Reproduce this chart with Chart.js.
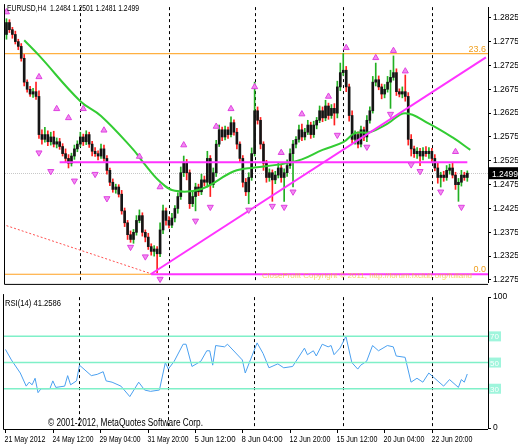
<!DOCTYPE html>
<html>
<head>
<meta charset="utf-8">
<script src="https://cdn.jsdelivr.net/npm/chart.js@4.4.1/dist/chart.umd.min.js"></script>
<style>
  body { margin: 0; background: #fff; }
  #wrap { position: relative; width: 518px; height: 444px; }
  .pane { position: absolute; left: 0; width: 518px; }
</style>
</head>
<body>
<div id="wrap">
  <div class="pane" style="top:0;height:290px"><canvas id="priceChart"></canvas></div>
  <div class="pane" style="top:290px;height:154px"><canvas id="rsiChart"></canvas></div>
</div>
<script>
// EURUSD H4 closes, one per bar (bar 0 = 21 May 2012 00:00)
const closes = [
  1.2815,1.2800,1.2790,1.2775,1.2765,1.2740,1.2690,1.2675,1.2665,1.2670,
  1.2660,1.2580,1.2570,1.2580,1.2565,1.2575,1.2560,1.2565,1.2555,1.2540,
  1.2530,1.2520,1.2535,1.2550,1.2560,1.2575,1.2565,1.2580,1.2560,1.2545,
  1.2540,1.2535,1.2550,1.2530,1.2505,1.2480,1.2465,1.2470,1.2455,1.2420,
  1.2395,1.2370,1.2360,1.2375,1.2400,1.2410,1.2375,1.2365,1.2345,1.2335,
  1.2340,1.2330,1.2380,1.2420,1.2400,1.2390,1.2405,1.2425,1.2450,1.2500,
  1.2520,1.2500,1.2435,1.2450,1.2470,1.2460,1.2485,1.2480,1.2530,1.2475,
  1.2500,1.2560,1.2590,1.2575,1.2590,1.2580,1.2605,1.2585,1.2560,1.2530,
  1.2480,1.2460,1.2490,1.2540,1.2630,1.2610,1.2560,1.2520,1.2490,1.2500,
  1.2485,1.2495,1.2510,1.2490,1.2500,1.2515,1.2540,1.2560,1.2570,1.2590,
  1.2575,1.2585,1.2600,1.2580,1.2600,1.2610,1.2630,1.2615,1.2640,1.2620,
  1.2635,1.2625,1.2680,1.2710,1.2715,1.2680,1.2620,1.2570,1.2580,1.2560,
  1.2590,1.2575,1.2610,1.2630,1.2690,1.2695,1.2680,1.2665,1.2675,1.2690,
  1.2700,1.2710,1.2670,1.2665,1.2670,1.2660,1.2570,1.2550,1.2540,1.2545,
  1.2535,1.2545,1.2540,1.2545,1.2530,1.2510,1.2490,1.2495,1.2490,1.2505,
  1.2510,1.2495,1.2475,1.2480,1.2495,1.2490,1.2499
];
const firstOpen = 1.2790;
// upper / lower shadow lengths in pips
const highWick = [
  8,6,5,7,5,6,8,5,6,7, 20,12,10,15,8,10,12,8,7,6, 10,8,6,8,7,10,6,8,5,6,
  8,6,10,8,6,5,7,6,5,8, 6,5,8,6,10,12,6,5,8,6, 7,5,15,12,6,8,10,6,8,12,
  15,8,6,10,8,6,12,8,15,6, 10,8,10,6,8,6,12,6,8,5, 6,8,10,12,60,8,6,5,6,8,
  6,8,10,6,8,12,10,8,6,10, 12,8,10,6,8,6,10,8,12,6, 8,10,12,20,35,8,6,10,8,6,
  8,6,10,8,12,35,8,6,10,12, 15,35,8,6,10,35,8,10,6,8, 6,8,10,8,6,8,10,6,8,10,
  8,12,6,8,10,6,5
];
const lowWick = [
  10,6,8,5,7,6,8,6,5,7, 6,8,10,6,8,7,6,8,6,5, 8,10,6,7,6,5,8,6,7,10,
  6,8,5,6,8,7,6,8,6,7, 8,10,6,8,6,5,8,10,6,8, 10,40,6,8,10,6,5,8,10,6,
  8,15,10,6,30,8,6,8,10,25, 6,8,5,8,6,8,5,6,10,8, 10,8,25,6,5,8,10,15,10,8,
  45,8,6,10,50,8,6,70,8,6, 8,6,5,8,6,8,5,8,6,8, 6,25,10,8,6,10,12,8,10,8,
  6,8,10,6,5,8,6,10,8,6, 55,6,8,6,8,10,12,15,8,10, 20,8,6,10,8,6,12,20,8,6,
  8,6,10,35,8,6,8
];

// moving average (green)
const maBar = [6,11,25,32,43,46,52,57,66,77,84,92,100,107,114,118,123,129,135,143,151,157];
const maVal = [1.2778,1.2746,1.2650,1.2619,1.2548,1.2524,1.2481,1.2462,1.2466,1.2503,1.2511,
               1.2517,1.2528,1.2548,1.2564,1.2583,1.2585,1.2603,1.2625,1.2603,1.2574,1.2548];

// fractals
const upBar = [0,11,17,21,26,33,45,52,60,71,76,84,93,100,109,115,125,131,135,152];
const upVal = [1.2837,1.2701,1.2634,1.2615,1.2634,1.2589,1.2534,1.2470,1.2558,1.2597,1.2634,
               1.2680,1.2542,1.2623,1.2660,1.2762,1.2741,1.2756,1.2713,1.2544];
const downBar = [11,15,23,30,34,42,47,52,64,69,82,90,94,97,112,122,130,137,140,147,154];
const downVal = [1.2542,1.2503,1.2483,1.2497,1.2446,1.2344,1.2324,1.2277,1.2399,1.2428,1.2422,
                 1.2430,1.2428,1.2460,1.2579,1.2554,1.2623,1.2517,1.2503,1.2460,1.2428];

// RSI(14)
const rsiBar = [0,2,5,7,8,9,10,11,12,15,16,17,20,21,22,24,25,29,31,33,34,36,39,42,45,47,49,52,
  54,55,57,60,61,63,66,68,69,70,71,74,75,80,81,85,87,89,92,94,97,101,102,104,105,107,109,110,
  111,113,115,117,119,120,122,124,126,129,131,132,135,137,139,141,143,145,148,150,153,154,155,156];
const rsiVal = [60,52,42,32,35,33,38,27,30,30,36,31,32,40,33,36,48,40,41,43,36,35,32,24,35,29,28,29,
  50,45,51,64,64,47,51,59,59,48,63,62,64,52,42,65,57,46,49,46,47,61,56,59,55,64,62,63,
  56,61,70,50,45,48,51,63,59,63,62,55,54,35,38,35,42,38,32,37,31,37,35,41.2586];

const priceTicks = [1.2825,1.2775,1.2725,1.2675,1.2625,1.2575,1.2525,1.2475,1.2425,1.2375,1.2325,1.2275];
const rsiLevels = [70,50,30];
const timeBars = [0,16,32,48,64,80,96,112,128,144];
const timeLabels = ['21 May 2012','24 May 12:00','29 May 04:00','31 May 20:00','5 Jun 12:00',
  '8 Jun 04:00','12 Jun 20:00','15 Jun 12:00','20 Jun 04:00','22 Jun 20:00'];
const separatorBars = [25,55,84,114,144];
const lastPrice = 1.2499;

const X_MIN = -0.5, X_MAX = 163;
const FONT = 'Liberation Sans, Arial, sans-serif';

// candles
const opens = closes.map((c, i) => i === 0 ? firstOpen : closes[i - 1]);
const wickData = [], bodyData = [], candleColors = [];
closes.forEach((c, i) => {
  const o = opens[i];
  const hi = Math.max(o, c) + highWick[i] / 10000;
  const lo = Math.min(o, c) - lowWick[i] / 10000;
  wickData.push({ x: i, y: [lo, hi] });
  bodyData.push({ x: i, y: o === c ? [c - 0.00005, c + 0.00005] : [o, c] });
  candleColors.push(c >= o ? '#22b022' : '#ff2020');
});

const pts = (xs, ys) => xs.map((x, i) => ({ x: x, y: ys[i] }));

function vSeparators(chart) {
  const { ctx, chartArea: a, scales: { x } } = chart;
  ctx.save();
  ctx.strokeStyle = '#000';
  ctx.lineWidth = 1;
  ctx.setLineDash([3, 3]);
  separatorBars.forEach(b => {
    const px = Math.round(x.getPixelForValue(b)) + 0.5;
    ctx.beginPath(); ctx.moveTo(px, a.top); ctx.lineTo(px, a.bottom); ctx.stroke();
  });
  ctx.restore();
}

function frame(chart) {
  const { ctx, chartArea: a } = chart;
  ctx.save();
  ctx.strokeStyle = '#000';
  ctx.lineWidth = 1;
  ctx.beginPath();
  ctx.moveTo(a.left - 0.5, a.top - 3); ctx.lineTo(a.left - 0.5, a.bottom + 1.5);
  ctx.lineTo(a.right, a.bottom + 1.5);
  ctx.stroke();
  ctx.restore();
}

const pricePlugin = {
  id: 'pricePlugin',
  beforeDatasetsDraw(chart) {
    const { ctx, chartArea: a, scales: { y } } = chart;
    vSeparators(chart);
    // bid line
    const py = Math.round(y.getPixelForValue(lastPrice)) + 0.5;
    ctx.save();
    ctx.strokeStyle = '#c8c8c8';
    ctx.setLineDash([1, 1]);
    ctx.beginPath(); ctx.moveTo(a.left, py); ctx.lineTo(a.right, py); ctx.stroke();
    ctx.restore();
  },
  afterDatasetsDraw(chart) {
    const { ctx, chartArea: a, scales: { y } } = chart;
    ctx.save();
    ctx.font = '9px ' + FONT;
    ctx.fillStyle = '#000';
    ctx.textBaseline = 'alphabetic';
    ctx.fillText('EURUSD,H4  1.2484 1.2501 1.2481 1.2499', a.left + 2, 11, 132);
    ctx.fillStyle = '#f0a020';
    ctx.textAlign = 'right';
    ctx.fillText('23.6', a.right - 2, y.getPixelForValue(1.2750) - 2);
    ctx.fillText('0.0', a.right - 2, y.getPixelForValue(1.2287) - 2);
    ctx.textAlign = 'left';
    ctx.fillStyle = 'rgba(240,200,40,0.7)';
    ctx.font = '8px ' + FONT;
    ctx.fillText('CloseProfit Copyright \u00a9 2011, http://forum.fxclub.org/fulland', 262, y.getPixelForValue(1.2287) + 4, 210);
    // current price box
    const py = y.getPixelForValue(lastPrice);
    ctx.font = '8.5px ' + FONT;
    ctx.fillStyle = '#000';
    ctx.fillRect(a.right + 1, py - 6, 30, 12);
    ctx.fillStyle = '#fff';
    ctx.fillText('1.2499', a.right + 4, py + 3.5);
    ctx.restore();
    frame(chart);
  }
};

new Chart(document.getElementById('priceChart').getContext('2d'), {
  type: 'bar',
  data: {
    datasets: [
      { type: 'line', data: [{ x: 0, y: 1.2389 }, { x: 49.5, y: 1.2287 }], borderColor: '#ff5050',
        borderWidth: 1, borderDash: [2, 2], pointRadius: 0, order: 9 },
      { type: 'line', data: [{ x: X_MIN, y: 1.2750 }, { x: X_MAX, y: 1.2750 }], borderColor: '#ffb040',
        borderWidth: 1.2, pointRadius: 0, order: 9 },
      { type: 'line', data: [{ x: X_MIN, y: 1.2287 }, { x: 49, y: 1.2287 }], borderColor: '#ffa020',
        borderWidth: 1.2, pointRadius: 0, order: 9 },
      { data: wickData, backgroundColor: candleColors, barThickness: 1, grouped: false, order: 6 },
      { data: bodyData, backgroundColor: '#151515', barThickness: 2, grouped: false, order: 5 },
      { type: 'line', data: pts(maBar, maVal), borderColor: '#33cc33', borderWidth: 2,
        pointRadius: 0, tension: 0.4, order: 4 },
      { type: 'line', data: [{ x: 18, y: 1.2522 }, { x: 156, y: 1.2522 }], borderColor: '#ff33ff',
        borderWidth: 2, pointRadius: 0, order: 3 },
      { type: 'line', data: [{ x: 49, y: 1.2287 }, { x: X_MAX, y: 1.2287 }], borderColor: '#ff33ff',
        borderWidth: 2, pointRadius: 0, order: 3 },
      { type: 'line', data: [{ x: 48.8, y: 1.2287 }, { x: 162.3, y: 1.2742 }], borderColor: '#ff33ff',
        borderWidth: 2, pointRadius: 0, order: 3 },
      { type: 'line', data: pts(upBar, upVal), showLine: false, pointStyle: 'triangle', pointRadius: 3.5,
        pointBackgroundColor: '#f08cf0', pointBorderColor: '#e040e0', order: 2 },
      { type: 'line', data: pts(downBar, downVal), showLine: false, pointStyle: 'triangle', pointRadius: 3.5,
        pointRotation: 180, pointBackgroundColor: '#f08cf0', pointBorderColor: '#e040e0', order: 2 }
    ]
  },
  options: {
    responsive: true,
    maintainAspectRatio: false,
    animation: false,
    layout: { padding: { left: 4, top: 3, right: 0, bottom: 3 } },
    plugins: { legend: { display: false }, tooltip: { enabled: false } },
    scales: {
      x: { type: 'linear', min: X_MIN, max: X_MAX, offset: false, display: false },
      y: {
        position: 'right', min: 1.22689, max: 1.28474,
        afterFit: s => { s.width = 30; },
        afterBuildTicks: s => { s.ticks = priceTicks.map(v => ({ value: v })); },
        ticks: { font: { size: 8.5, family: FONT }, color: '#000', padding: 2, callback: v => v.toFixed(4) },
        grid: { drawOnChartArea: false, tickLength: 3, color: '#000' },
        border: { display: true, color: '#000' }
      }
    }
  },
  plugins: [pricePlugin]
});

const rsiPlugin = {
  id: 'rsiPlugin',
  beforeDatasetsDraw(chart) { vSeparators(chart); },
  afterDatasetsDraw(chart) {
    const { ctx, chartArea: a, scales: { x, y } } = chart;
    ctx.save();
    ctx.font = '9px ' + FONT;
    ctx.fillStyle = '#000';
    ctx.fillText('RSI(14) 41.2586', a.left + 1, a.top + 9, 56);
    ctx.font = '10px ' + FONT;
    ctx.fillText('\u00a9 2001-2012, MetaQuotes Software Corp.', 48, a.bottom - 2, 155);
    // level labels
    ctx.font = '8px ' + FONT;
    rsiLevels.forEach(l => {
      const py = y.getPixelForValue(l);
      ctx.fillStyle = '#9ff5dc';
      ctx.fillRect(a.right + 1, py - 5, 12, 10);
      ctx.fillStyle = '#fff';
      ctx.fillText(String(l), a.right + 2, py + 3);
    });
    // time labels
    ctx.font = '9px ' + FONT;
    ctx.fillStyle = '#000';
    ctx.strokeStyle = '#000';
    timeBars.forEach((b, i) => {
      const px = Math.round(x.getPixelForValue(b)) + 0.5;
      ctx.beginPath(); ctx.moveTo(px, a.bottom + 2); ctx.lineTo(px, a.bottom + 5); ctx.stroke();
      ctx.fillText(timeLabels[i], px - 1, a.bottom + 14, 41);
    });
    ctx.restore();
    frame(chart);
  }
};

new Chart(document.getElementById('rsiChart').getContext('2d'), {
  type: 'line',
  data: {
    datasets: rsiLevels.map(l => ({
      data: [{ x: X_MIN, y: l }, { x: X_MAX, y: l }], borderColor: '#7ff0c8', borderWidth: 1.5, pointRadius: 0
    })).concat([{
      data: pts(rsiBar, rsiVal), borderColor: '#4aa0f0', borderWidth: 1, pointRadius: 0
    }])
  },
  options: {
    responsive: true,
    maintainAspectRatio: false,
    animation: false,
    layout: { padding: { left: 4, top: 3, right: 0, bottom: 16 } },
    plugins: { legend: { display: false }, tooltip: { enabled: false } },
    scales: {
      x: { type: 'linear', min: X_MIN, max: X_MAX, display: false },
      y: {
        position: 'right', min: 0, max: 100,
        afterFit: s => { s.width = 30; },
        afterBuildTicks: s => { s.ticks = [{ value: 0 }, { value: 100 }]; },
        ticks: { font: { size: 8.5, family: FONT }, color: '#000', padding: 2 },
        grid: { drawOnChartArea: false, tickLength: 3, color: '#000' },
        border: { display: true, color: '#000' }
      }
    }
  },
  plugins: [rsiPlugin]
});
</script>
</body>
</html>
